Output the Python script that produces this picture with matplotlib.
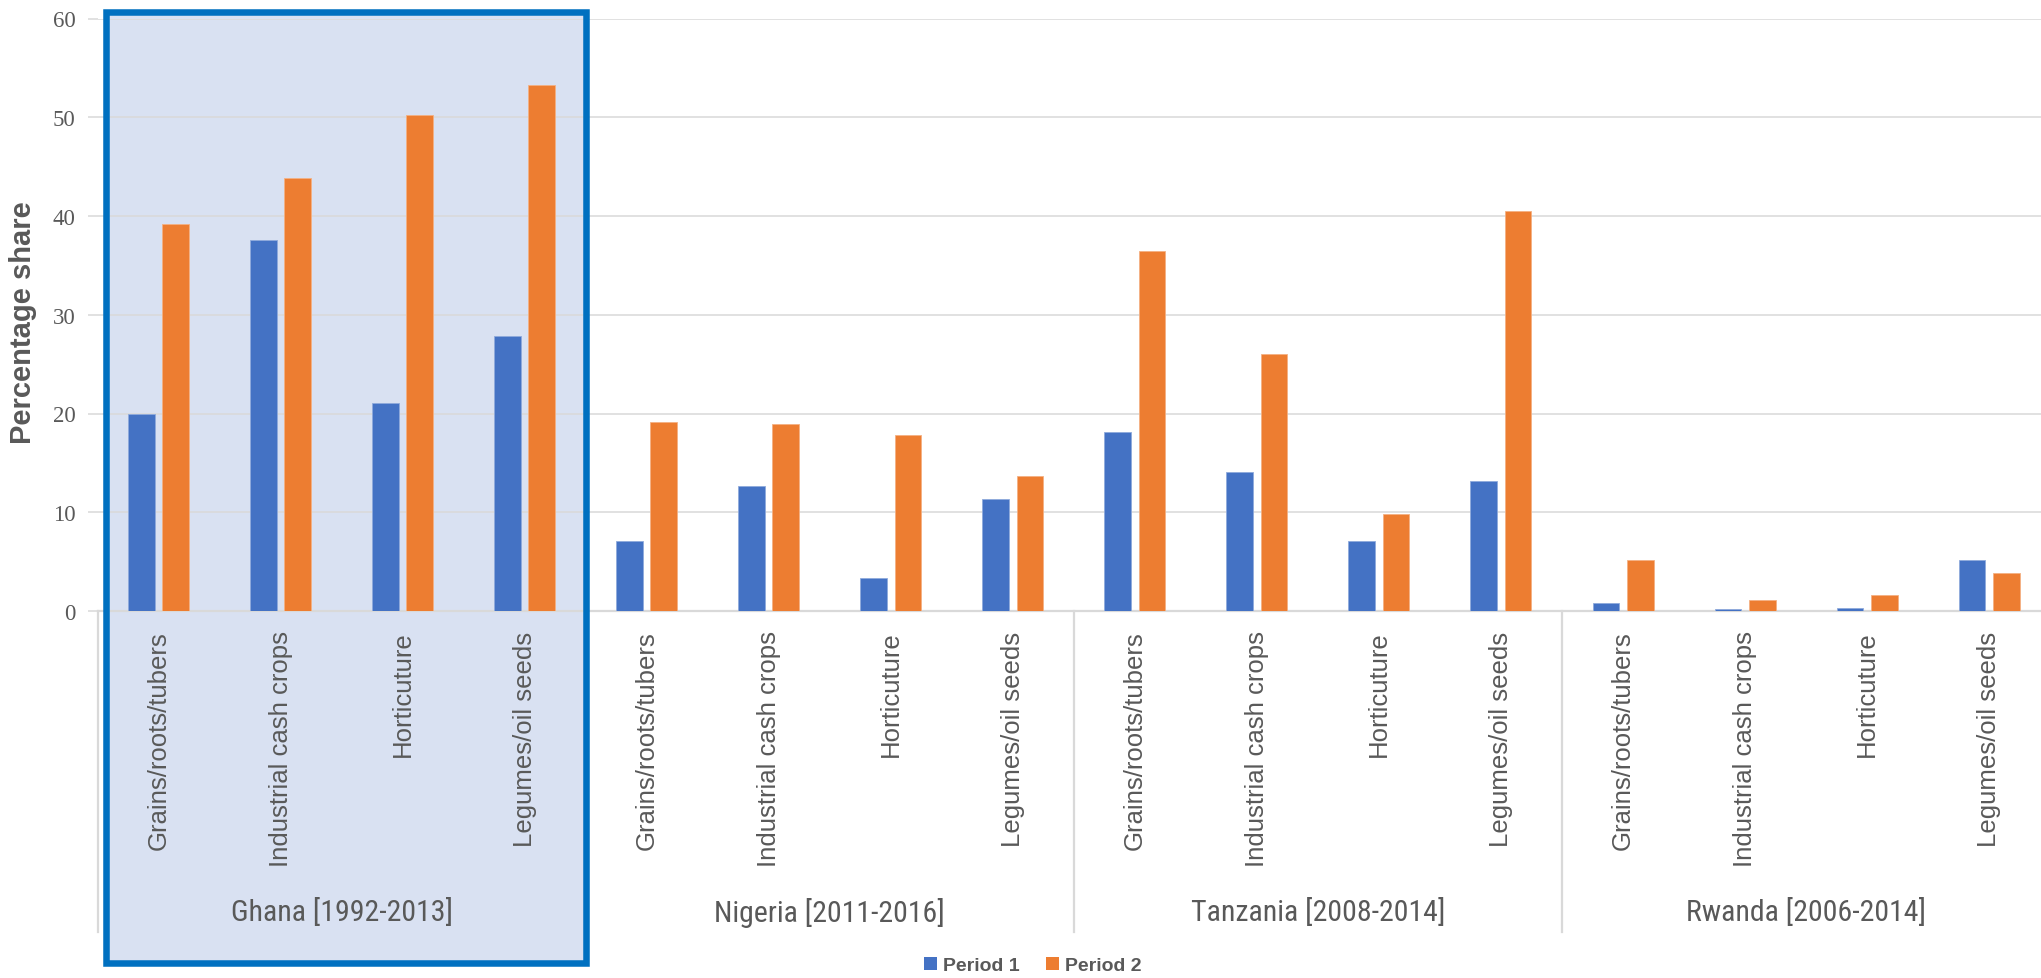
import numpy as np
import matplotlib
matplotlib.use('Agg')
import matplotlib.pyplot as plt
from matplotlib import font_manager as fm
from matplotlib.patches import Rectangle, Patch
from matplotlib.transforms import blended_transform_factory

# values (percentage share)
countries = ['Ghana [1992-2013]', 'Nigeria [2011-2016]', 'Tanzania [2008-2014]', 'Rwanda [2006-2014]']
crops = ['Grains/roots/tubers', 'Industrial cash crops', 'Horticuture', 'Legumes/oil seeds']

period1 = [20.0, 37.6, 21.1, 27.8,
           7.1, 12.7, 3.3, 11.3,
           18.1, 14.1, 7.1, 13.2,
           0.8, 0.2, 0.3, 5.2]
period2 = [39.2, 43.8, 50.2, 53.3,
           19.1, 18.9, 17.8, 13.7,
           36.5, 26.0, 9.8, 40.5,
           5.2, 1.1, 1.6, 3.8]

W, H = 2041, 979
BLUE = '#4472C4'
ORANGE = '#ED7D31'
GRID = '#D9D9D9'
TXT = '#595959'


def have_font(name):
    try:
        fm.findfont(fm.FontProperties(family=name), fallback_to_default=False)
        return True
    except ValueError:
        return False


# narrow font for the country labels, if one is around
group_font, group_size = 'Liberation Sans', 20
for name, size in [('Liberation Sans Narrow', 22.5), ('Roboto Condensed', 21.5)]:
    if have_font(name):
        group_font, group_size = name, size
        break

fig = plt.figure(figsize=(W / 100, H / 100), dpi=100)

# Ghana highlight box (fill behind the axes)
box = (106 / W, 1 - 964 / H, (586 - 106) / W, (964 - 13) / H)
fig.patches.append(Rectangle(box[:2], box[2], box[3], transform=fig.transFigure,
                             facecolor='#D9E1F2', edgecolor='none', zorder=-1))

ax = fig.add_axes([97.7 / W, 1 - 612 / H, 1952.4 / W, (612 - 19.5) / H])
ax.patch.set_visible(False)

n = len(period1)
x = np.arange(n)
bw = 0.22
off = 0.14
ax.bar(x - off, period1, bw, color=BLUE, edgecolor='#8FAADC', linewidth=0.6, zorder=3, label='Period 1')
ax.bar(x + off, period2, bw, color=ORANGE, edgecolor='#F4B183', linewidth=0.6, zorder=3, label='Period 2')

ax.set_xlim(-0.5, n - 0.5)
ax.set_ylim(0, 60)
ax.set_yticks(np.arange(0, 61, 10))
ax.yaxis.grid(True, color=GRID, linewidth=1.1, zorder=0)
ax.set_axisbelow(True)
for s in ['left', 'right', 'top']:
    ax.spines[s].set_visible(False)
ax.spines['bottom'].set_color(GRID)
ax.spines['bottom'].set_linewidth(1.6)

ax.tick_params(axis='y', length=7, color=GRID, width=1.1, pad=9, labelcolor=TXT, labelsize=16.5)
for lab in ax.get_yticklabels():
    lab.set_fontfamily('Liberation Serif')

ax.set_xticks(x)
ax.set_xticklabels(crops * len(countries), rotation=90, va='top', ha='center',
                   fontsize=18.5, color=TXT, family='Liberation Sans')
ax.tick_params(axis='x', length=0, pad=14)

# group labels and separators below the axis
tr = blended_transform_factory(ax.transData, fig.transFigure)
for i, c in enumerate(countries):
    ax.text(i * 4 + 1.5, 1 - 913 / H, c, transform=tr, ha='center', va='center',
            fontsize=group_size, color=TXT, family=group_font)
for b in [-0.5, 3.5, 7.5, 11.5]:
    ax.plot([b, b], [1 - 612 / H, 1 - 933 / H], transform=tr, color=GRID,
            linewidth=1.6, clip_on=False, zorder=1)

# box outline on top
fig.patches.append(Rectangle(box[:2], box[2], box[3], transform=fig.transFigure,
                             facecolor='none', edgecolor='#0070C0', linewidth=4.7, zorder=5))

fig.text(23 / W, 1 - 323 / H, 'Percentage share', rotation=90, ha='center', va='center',
         fontsize=21, fontweight='bold', color=TXT, family='Liberation Sans')

handles = [Patch(facecolor=BLUE), Patch(facecolor=ORANGE)]
leg = fig.legend(handles, ['Period 1', 'Period 2'], loc='center', bbox_to_anchor=(0.506, 0.0125),
                 ncol=2, frameon=False, handlelength=0.65, handleheight=0.65, handletextpad=0.3,
                 columnspacing=1.4, prop={'family': 'Liberation Sans', 'weight': 'bold', 'size': 14})
for t in leg.get_texts():
    t.set_color(TXT)

fig.savefig('out.png', dpi=100)
